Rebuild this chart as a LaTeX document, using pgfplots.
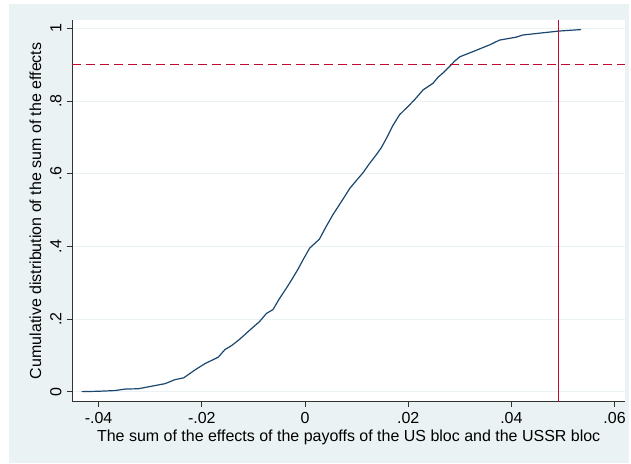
\documentclass[border=0pt]{standalone}
\usepackage{pgfplots}
\pgfplotsset{compat=1.18}
\usepackage{fontspec}
\setmainfont{Liberation Sans}
\definecolor{bgc}{RGB}{234,242,243}
\definecolor{navy}{RGB}{26,71,111}
\definecolor{redl}{RGB}{192,8,48}
\definecolor{axc}{RGB}{50,50,50}
\begin{document}
\fontsize{16}{19}\selectfont
\begin{tikzpicture}
\fill[white] (0pt,0pt) rectangle (631pt,464pt);
\fill[bgc] (9pt,1pt) rectangle (630pt,460pt);
\begin{axis}[
  at={(72pt,62pt)}, anchor=south west,
  scale only axis, width=554pt, height=382pt,
  xmin=-0.04517, xmax=0.0621, ymin=-0.0275, ymax=1.0234,
  axis background/.style={fill=white},
  axis x line*=bottom, axis y line*=left,
  axis line style={-, axc, line width=0.8pt},
  tick align=outside, major tick length=5pt,
  tick style={axc, line width=0.8pt},
  scaled x ticks=false, scaled y ticks=false,
  xtick={-0.04,-0.02,0,0.02,0.04,0.06},
  xticklabels={-.04,-.02,0,.02,.04,.06},
  ytick={0,0.2,0.4,0.6,0.8,1},
  yticklabels={0,.2,.4,.6,.8,1},
  yticklabel style={rotate=90, anchor=south},
  ymajorgrids, grid style={bgc, line width=1pt},
  xlabel={The sum of the effects of the payoffs of the US bloc and the USSR bloc},
  ylabel={Cumulative distribution of the sum of the effects},
  xlabel style={yshift=4pt},
  ylabel style={yshift=-2pt},
  /pgf/number format/assume math mode=true,
  ticklabel style={font=\fontsize{16}{19}\selectfont},
  label style={font=\fontsize{16}{19}\selectfont},
  clip=true,
]
\addplot[navy, line width=1.2pt] coordinates {
(-0.0433,0) (-0.0400,0.001) (-0.0368,0.003) (-0.0349,0.007) (-0.0323,0.008)
(-0.0297,0.015) (-0.0271,0.022) (-0.0252,0.033) (-0.0235,0.038) (-0.0213,0.060)
(-0.0194,0.077) (-0.0168,0.095) (-0.0155,0.116) (-0.0142,0.127) (-0.0126,0.145)
(-0.0105,0.172) (-0.0088,0.193) (-0.0075,0.215) (-0.0062,0.226) (-0.0050,0.255)
(-0.0036,0.285) (-0.0025,0.310) (-0.0014,0.336) (-0.0003,0.365) (0.0009,0.395)
(0.0028,0.420) (0.0040,0.452) (0.0054,0.487) (0.0070,0.522) (0.0087,0.560)
(0.0100,0.582) (0.0112,0.602) (0.0125,0.628) (0.0138,0.652) (0.0148,0.672)
(0.0158,0.698) (0.0170,0.732) (0.0183,0.762) (0.0203,0.790) (0.0215,0.808)
(0.0229,0.831) (0.0248,0.849) (0.0258,0.866) (0.0267,0.877) (0.0280,0.895)
(0.0290,0.910) (0.0300,0.922) (0.0325,0.936) (0.0358,0.955) (0.0377,0.968)
(0.0409,0.976) (0.0422,0.982) (0.0454,0.987) (0.0493,0.993) (0.0535,0.997)
};
\addplot[redl, line width=1.2pt, dash pattern=on 9pt off 5pt] coordinates {(-0.04517,0.9) (0.0621,0.9)};
\addplot[redl, line width=1.2pt] coordinates {(0.0492,-0.0275) (0.0492,1.0234)};
\end{axis}
\end{tikzpicture}
\end{document}
